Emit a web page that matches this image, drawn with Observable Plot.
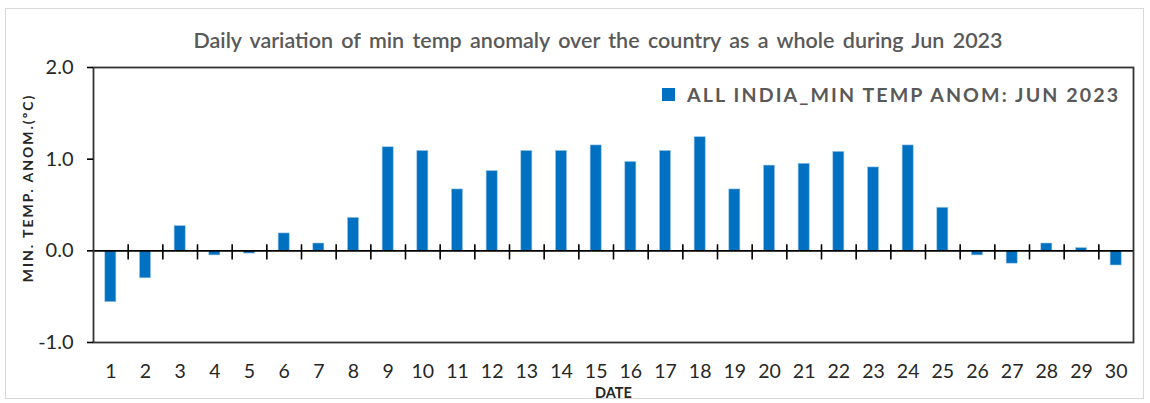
<!DOCTYPE html>
<html>
<head>
<meta charset="utf-8">
<script src="https://cdn.jsdelivr.net/npm/d3@7"></script>
<script src="https://cdn.jsdelivr.net/npm/@observablehq/plot@0.6"></script>
<style>
  html, body { margin: 0; padding: 0; background: #fff; }
  #wrap { position: relative; width: 1150px; height: 403px; overflow: hidden; font-family: Lato, "Open Sans", sans-serif; }
  #border { position: absolute; left: 5px; top: 8px; width: 1139px; height: 391px; border: 1px solid #d9d9d9; box-sizing: border-box; }
  #chart { position: absolute; left: 0; top: 0; }
  #title { position: absolute; left: 598px; top: 27px; transform: translateX(-50%); white-space: nowrap;
           font-size: 21.5px; color: #595959; font-weight: 600; word-spacing: 3px; }
  #legend { position: absolute; left: 662px; top: 83px; display: flex; align-items: center; white-space: nowrap; }
  #legend .sw { width: 13px; height: 13px; background: #0070C0; margin-right: 12px; }
  #legend .lbl { font-size: 19.6px; font-weight: bold; color: #595959; letter-spacing: 2.1px; }
</style>
</head>
<body>
<div id="wrap">
  <div id="border"></div>
  <div id="chart"></div>
  <div id="title"></div>
  <div id="legend"><div class="sw"></div><div class="lbl"></div></div>
</div>
<script>
const titleText = "Daily variation of min temp anomaly over the country as a whole during Jun 2023";
const seriesName = "ALL INDIA_MIN TEMP ANOM: JUN 2023";
const yLabel = "MIN. TEMP. ANOM.(ºC)";
const xLabel = "DATE";
const days = ["1","2","3","4","5","6","7","8","9","10","11","12","13","14","15","16","17","18","19","20","21","22","23","24","25","26","27","28","29","30"];
const anomalies = [-0.56,-0.30,0.27,-0.05,-0.03,0.19,0.08,0.36,1.13,1.09,0.67,0.87,1.09,1.09,1.15,0.97,1.09,1.24,0.67,0.93,0.95,1.08,0.91,1.15,0.47,-0.05,-0.14,0.08,0.03,-0.16];
const yTicks = [-1, 0, 1, 2];

document.getElementById("title").textContent = titleText;
document.querySelector("#legend .lbl").textContent = seriesName;

const data = days.map((d, i) => ({day: d, anom: anomalies[i]}));

const W = 1150, H = 403, mL = 93, mR = 17, mT = 67, mB = 61;
const step = (W - mL - mR) / days.length;
const barInset = step * 0.34;

const chart = Plot.plot({
  width: W,
  height: H,
  marginLeft: mL,
  marginRight: mR,
  marginTop: mT,
  marginBottom: mB,
  style: {fontFamily: "Lato, 'Open Sans', sans-serif", background: "transparent", overflow: "visible"},
  x: {domain: days, padding: 0, round: false},
  y: {domain: [-1, 2]},
  marks: [
    Plot.barY(data, {x: "day", y: "anom", fill: "#0070C0", insetLeft: barInset, insetRight: barInset, stroke: "#9fc9ea", strokeWidth: 0.6}),
    Plot.ruleY([0], {stroke: "#000", strokeWidth: 1.6}),
    Plot.ruleX(days.slice(1), {x: d => d, dx: -step / 2, y1: -0.1, y2: 0.066, stroke: "#000", strokeWidth: 1.6}),
    Plot.frame({stroke: "#333", strokeWidth: 1.8}),
    Plot.axisY({ticks: yTicks, tickFormat: d => d.toFixed(1), tickSize: 6, tickPadding: 14,
      fontSize: 20, color: "#262626", stroke: "#000", strokeWidth: 1.6, label: null}),
    Plot.axisX({tickSize: 0, tickPadding: 22, fontSize: 19.5, color: "#262626", label: null}),
    Plot.text([xLabel], {text: d => d, frameAnchor: "bottom", dy: 55, fontSize: 14.5, fontWeight: "bold", fill: "#262626"}),
    Plot.text([yLabel], {text: d => d, frameAnchor: "left", textAnchor: "middle", dx: -65, dy: -17, rotate: -90, fontSize: 14, fontWeight: "bold", fill: "#262626"})
  ]
});
document.getElementById("chart").appendChild(chart);
d3.select(chart).selectAll("text")
  .filter(function() { return this.textContent === yLabel; })
  .attr("letter-spacing", "2px");
</script>
</body>
</html>
